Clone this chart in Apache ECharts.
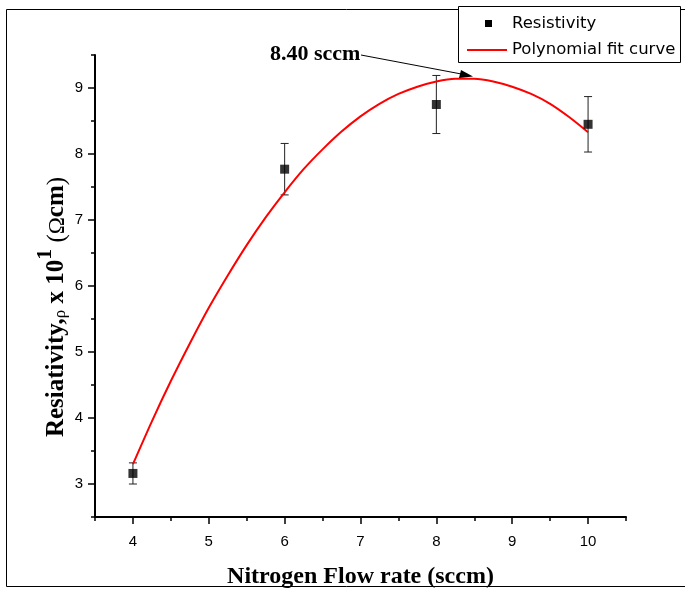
<!DOCTYPE html>
<html><head><meta charset="utf-8">
<script src="https://cdn.jsdelivr.net/npm/echarts@6/dist/echarts.min.js"></script>
<style>html,body{margin:0;padding:0;background:#fff}#c{width:685px;height:589px}</style>
</head><body><div id="c"></div>
<script>
// ---- data ----
const flowRate = [4, 6, 8, 10];
const resistivity = [3.16, 7.77, 8.75, 8.45];
const errorBar = [0.16, 0.39, 0.44, 0.42];
const fitX = [4, 4.25, 4.5, 4.75, 5, 5.25, 5.5, 5.75, 6, 6.25, 6.5, 6.75, 7, 7.25, 7.5, 7.75, 8, 8.25, 8.5, 8.75, 9, 9.25, 9.5, 9.75, 10];
const fitY = [3.30, 3.95, 4.56, 5.13, 5.67, 6.16, 6.62, 7.04, 7.42, 7.77, 8.07, 8.34, 8.57, 8.76, 8.91, 9.02, 9.10, 9.14, 9.14, 9.10, 9.02, 8.91, 8.76, 8.56, 8.33];
const xTicks = [4, 5, 6, 7, 8, 9, 10];
const yTicks = [3, 4, 5, 6, 7, 8, 9];
const seriesNames = ['Resistivity', 'Polynomial fit curve'];
const peakLabel = '8.40 sccm';
const xTitle = 'Nitrogen Flow rate (sccm)';

const chart = echarts.init(document.getElementById('c'), null, {renderer: 'canvas'});

const scatterData = flowRate.map((x, i) => [x, resistivity[i]]);
const errData = flowRate.map((x, i) => [x, resistivity[i] - errorBar[i], resistivity[i] + errorBar[i]]);
const fitData = fitX.map((x, i) => [x, fitY[i]]);

const serif = 'Liberation Serif';
const sans = 'Liberation Sans';
const legendFont = 'DejaVu Sans';

const gridBox = {left: 95, right: 59, top: 55, bottom: 72, containLabel: false, outerBoundsMode: 'none'};

const option = {
  animation: false,
  backgroundColor: '#fff',
  grid: [Object.assign({}, gridBox), Object.assign({}, gridBox)],
  xAxis: [{
    type: 'value', gridIndex: 0, min: 3.5, max: 10.5,
    axisLine: {show: true, onZero: false, lineStyle: {color: '#000', width: 2}},
    axisTick: {show: true, length: 7, customValues: xTicks, lineStyle: {color: '#000', width: 1.5}},
    axisLabel: {customValues: xTicks, color: '#000', fontFamily: sans, fontSize: 15, margin: 17},
    splitLine: {show: false},
    name: xTitle, nameLocation: 'middle', nameGap: 48,
    nameTextStyle: {fontFamily: serif, fontWeight: 'bold', fontSize: 24, color: '#000'}
  }, {
    type: 'value', gridIndex: 1, min: 3.5, max: 10.5, interval: 0.5,
    axisLine: {show: false, onZero: false},
    axisTick: {show: true, length: 4, lineStyle: {color: '#000', width: 1.5}},
    axisLabel: {show: false}, splitLine: {show: false}
  }],
  yAxis: [{
    type: 'value', gridIndex: 0, min: 2.5, max: 9.5,
    axisLine: {show: true, onZero: false, lineStyle: {color: '#000', width: 2}},
    axisTick: {show: true, length: 7, customValues: yTicks, lineStyle: {color: '#000', width: 1.5}},
    axisLabel: {customValues: yTicks, color: '#000', fontFamily: sans, fontSize: 15, margin: 12},
    splitLine: {show: false}
  }, {
    type: 'value', gridIndex: 1, min: 2.5, max: 9.5, interval: 0.5,
    axisLine: {show: false, onZero: false},
    axisTick: {show: true, length: 4, lineStyle: {color: '#000', width: 1.5}},
    axisLabel: {show: false}, splitLine: {show: false}
  }],
  series: [{
    type: 'custom', name: 'err', xAxisIndex: 0, yAxisIndex: 0, z: 3,
    data: errData,
    renderItem: function (params, api) {
      const x = api.value(0);
      const lo = api.coord([x, api.value(1)]);
      const hi = api.coord([x, api.value(2)]);
      const w = 4;
      const st = {stroke: '#222', lineWidth: 1, fill: null};
      return {type: 'group', children: [
        {type: 'line', shape: {x1: lo[0], y1: lo[1], x2: hi[0], y2: hi[1]}, style: st},
        {type: 'line', shape: {x1: lo[0] - w, y1: lo[1], x2: lo[0] + w, y2: lo[1]}, style: st},
        {type: 'line', shape: {x1: hi[0] - w, y1: hi[1], x2: hi[0] + w, y2: hi[1]}, style: st}
      ]};
    }
  }, {
    type: 'line', name: seriesNames[1], xAxisIndex: 0, yAxisIndex: 0, z: 4,
    data: fitData, smooth: 0.25, showSymbol: false,
    lineStyle: {color: '#ff0000', width: 2}, itemStyle: {color: '#ff0000'}
  }, {
    type: 'scatter', name: seriesNames[0], xAxisIndex: 0, yAxisIndex: 0, z: 5,
    data: scatterData, symbol: 'rect', symbolSize: 9,
    itemStyle: {color: '#000'}
  }],
  graphic: [
    // outer frame
    {type: 'rect', z: 0, silent: true, shape: {x: 6.5, y: 9.5, width: 700, height: 577},
      style: {fill: null, stroke: '#000', lineWidth: 1}},
    // legend box
    {type: 'rect', z: 10, shape: {x: 458.5, y: 6.5, width: 222, height: 56},
      style: {fill: '#fff', stroke: '#000', lineWidth: 1}},
    {type: 'rect', z: 11, shape: {x: 485, y: 20, width: 7, height: 7}, style: {fill: '#000'}},
    {type: 'text', z: 11, x: 512, y: 24, style: {text: seriesNames[0], fontFamily: legendFont, fontSize: 16.5, fill: '#000', verticalAlign: 'middle'}},
    {type: 'line', z: 11, shape: {x1: 467, y1: 50, x2: 507, y2: 50}, style: {stroke: '#ff0000', lineWidth: 2}},
    {type: 'text', z: 11, x: 512, y: 50, style: {text: seriesNames[1], fontFamily: legendFont, fontSize: 16.5, fill: '#000', verticalAlign: 'middle'}},
    // annotation
    {type: 'text', z: 11, x: 270, y: 54, style: {text: peakLabel, fontFamily: serif, fontWeight: 'bold', fontSize: 22, fill: '#000', verticalAlign: 'middle'}},
    {type: 'line', z: 11, shape: {x1: 361, y1: 55, x2: 464, y2: 74.5}, style: {stroke: '#000', lineWidth: 1}},
    {type: 'polygon', z: 11, shape: {points: [[473, 76.5], [461, 70], [459, 78]]}, style: {fill: '#000'}},
    // y-axis title
    {type: 'text', z: 11, x: 52, y: 307, rotation: Math.PI / 2,
      style: {
        text: '{b|Resiativity,}{r|ρ}{b| x 10}{s|1}{p| (}{o|Ω}{c|cm}{p|)}',
        align: 'center', verticalAlign: 'middle',
        rich: {
          b: {fontFamily: serif, fontWeight: 'bold', fontSize: 25, fill: '#000', verticalAlign: 'bottom'},
          r: {fontFamily: serif, fontSize: 17, fill: '#000', verticalAlign: 'bottom'},
          s: {fontFamily: serif, fontWeight: 'bold', fontSize: 22, fill: '#000', verticalAlign: 'top', padding: [0, 0, 13, 0]},
          p: {fontFamily: serif, fontSize: 25, fill: '#000', verticalAlign: 'bottom'},
          o: {fontFamily: serif, fontSize: 23, fill: '#000', verticalAlign: 'bottom'},
          c: {fontFamily: serif, fontWeight: 'bold', fontSize: 25, fill: '#000', verticalAlign: 'bottom'}
        }
      }}
  ]
};
chart.setOption(option);
</script>
</body></html>
